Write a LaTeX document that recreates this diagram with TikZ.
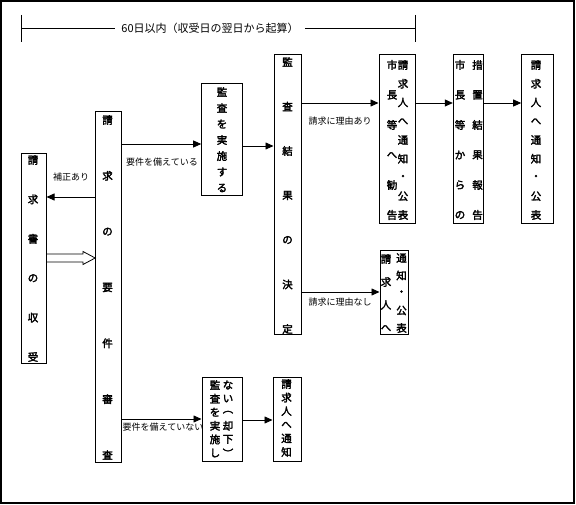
\documentclass[tikz,border=0pt]{standalone}
\usepackage{fontspec}
\newfontfamily\jp{Noto Sans CJK JP}
\newfontfamily\jpb[FakeBold=2.5]{Noto Sans CJK JP}
\usetikzlibrary{arrows.meta,fit,calc}
\tikzset{
  box/.style={draw, line width=1pt, inner sep=0pt, rectangle},
  arr/.style={line width=0.8pt, -{Triangle[length=8pt,width=7pt]}},
  ch/.style={inner sep=0pt, font=\jpb\fontsize{10.5}{10.5}\selectfont},
  lbl/.style={inner sep=0pt, font=\jp\fontsize{9}{9}\selectfont},
  ttl/.style={inner ysep=0pt, inner xsep=6pt, font=\jp\fontsize{11}{11}\selectfont},
  frame/.style={draw, line width=2pt},
  plain/.style={line width=0.8pt},
}
% column of characters: name, x, ytop, step, list
\newcommand\mycolumn[5]{%
  \foreach \c [count=\i from 0] in {#5} {%
    \node[ch] (#1-\i) at (#2, {#3+\i*#4}) {\c};
  }%
}
\begin{document}
\begin{tikzpicture}[x=1pt,y=-1pt]
\useasboundingbox (0,0) rectangle (576,505);
\path[frame] (1,1) rectangle (574,503);

% period bracket
\coordinate (brL) at (21,28);
\coordinate (brR) at (415.5,28);
\coordinate (brLt) at (21,15);
\coordinate (brLb) at (21,42);
\coordinate (brRt) at (415.5,15);
\coordinate (brRb) at (415.5,42);
\node[ttl] (title) at (210,28) {60日以内（収受日の翌日から起算）};
\draw[plain] (brL) -- (title.west);
\draw[plain] (title.east) -- (brR);
\draw[plain] (brLt) -- (brLb);
\draw[plain] (brRt) -- (brRb);

% box frames
\foreach \n/\xa/\ya/\xb/\yb in {
  b1/21.5/154/46/363,
  b2/95.7/112/121.7/462,
  b3/201.7/84/242.7/196,
  b4/274/55/301.7/334,
  b5/379/55/415/224,
  b6/453.3/55/483.3/224,
  b7/521.7/55/553/224,
  b8/380/251/408/334,
  b9/202/377/242.7/461,
  b10/273/377/301.7/461} {
  \coordinate (\n nw) at (\xa,\ya);
  \coordinate (\n se) at (\xb,\yb);
  \node[box, fit=(\n nw)(\n se)] (\n) {};
}

% box texts
\mycolumn{t1}{33}{160}{39.4}{請,求,書,の,収,受}
\mycolumn{t2}{107.5}{120}{55.83}{請,求,の,要,件,審,査}
\mycolumn{t3}{222}{92}{16}{監,査,を,実,施,す,る}
\mycolumn{t4}{287.5}{62}{44.5}{監,査,結,果,の,決,定}
\mycolumn{t5a}{392}{65}{30}{市,長,等,へ,勧,告}
\mycolumn{t5b}{403}{65}{18.75}{請,求,人,へ,通,知,・,公,表}
\mycolumn{t6a}{460}{65}{30}{市,長,等,か,ら,の}
\mycolumn{t6b}{477.5}{65}{30}{措,置,結,果,報,告}
\mycolumn{t7}{536}{65}{18.75}{請,求,人,へ,通,知,・,公,表}
\mycolumn{t8a}{386}{259}{23}{請,求,人,へ}
\mycolumn{t8b}{401.5}{258}{17.5}{通,知,・,公,表}
\mycolumn{t9a}{215}{385}{13.6}{監,査,を,実,施,し}
\mycolumn{t9b}{228}{385}{13.6}{な,い,︵,却,下,︶}
\mycolumn{t10}{286.5}{384}{13.6}{請,求,人,へ,通,知}

% connectors
\draw[arr] (b2.west |- 0,197) -- (b1.east |- 0,197);
\node[lbl] (l1) at (71,177) {補正あり};
\draw[plain] (b1.east |- 0,254) -- (83,254) -- (83,251.5) -- (b2.west |- 0,258)
  -- (83,264.5) -- (83,262) -- (b1.east |- 0,262);

\draw[arr] (b2.east |- 0,144) -- (b3.west |- 0,144);
\node[lbl] (l2) at (162,162) {要件を備えている};
\draw[arr] (b2.east |- 0,419) -- (b9.west |- 0,419);
\node[lbl] (l3) at (163,427) {要件を備えていない};
\draw[arr] (b3.east |- 0,146) -- (b4.west |- 0,146);
\draw[arr] (b9.east |- 0,420) -- (b10.west |- 0,420);
\draw[arr] (b4.east |- 0,103) -- (b5.west |- 0,103);
\node[lbl] (l4) at (340,121) {請求に理由あり};
\draw[arr] (b4.east |- 0,292) -- (b8.west |- 0,292);
\node[lbl] (l5) at (340,302) {請求に理由なし};
\draw[arr] (b5.east |- 0,103) -- (b6.west |- 0,103);
\draw[arr] (b6.east |- 0,103) -- (b7.west |- 0,103);
\end{tikzpicture}
\end{document}
